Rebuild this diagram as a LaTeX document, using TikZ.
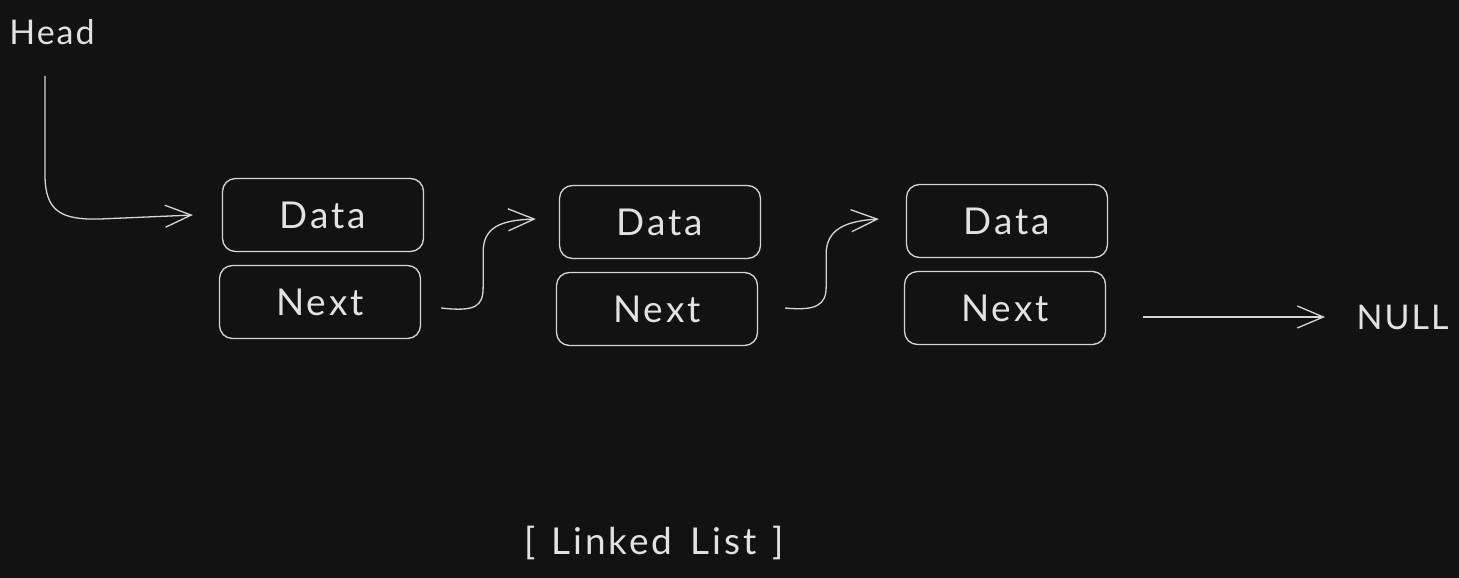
\documentclass[tikz,border=0pt]{standalone}
\usepackage{fontspec}
\setmainfont{Lato}
\usetikzlibrary{arrows.meta,calc}
\definecolor{bg}{HTML}{121212}
\definecolor{ink}{HTML}{D6D6D6}
\definecolor{txt}{HTML}{E2E2E2}
\begin{document}
\begin{tikzpicture}[x=1pt,y=-1pt,
  lbl/.style={text=txt,font=\fontsize{34}{40}\selectfont\addfontfeature{LetterSpace=6}},
  big/.style={text=txt,font=\fontsize{37}{42}\selectfont\addfontfeature{LetterSpace=8}},
  cell/.style={draw=ink,line width=1.3pt,rounded corners=13pt,minimum width=201pt,minimum height=73pt,inner sep=0pt,big},
  arr/.style={draw=ink,line width=1.3pt,-{Straight Barb[length=26pt,width=22pt,line width=1.3pt]}}]
\fill[bg] (0,0) rectangle (1459,578);
\useasboundingbox (0,0) rectangle (1459,578);
\node[lbl] (Head) at (52,32) {Head};
\node[cell] (D1) at (323,215) {Data};
\node[cell] (N1) at (320,302) {Next};
\node[cell] (D2) at (660,222) {Data};
\node[cell] (N2) at (657,309) {Next};
\node[cell] (D3) at (1007,221) {Data};
\node[cell] (N3) at (1005,308) {Next};
\node[lbl,anchor=west] (NULL) at (1353,317) {NULL};
\node[big] (cap) at (654,543) {[\hspace{16pt}Linked\hspace{18pt}List\hspace{16pt}]};
\coordinate (h0) at (45,76);
\draw[arr] (h0) -- (45,175) .. controls (45,212) and (62,220) .. (100,219) -- ($(D1.west)+(-29,0)$);
\draw[arr] ($(N1.east)+(20,6)$) .. controls ($(N1.east)+(55,10)$) and ($(N1.east)+(62,4)$) .. ($(N1.east)+(62,-15)$) -- ($(N1.east)+(62,-50)$) .. controls ($(N1.east)+(62,-75)$) and ($(N1.east)+(80,-82)$) .. ($(D2.west)+(-23,-3)$);
\draw[arr] ($(N2.east)+(27,-1)$) .. controls ($(N2.east)+(58,2)$) and ($(N2.east)+(68,-4)$) .. ($(N2.east)+(68,-22)$) -- ($(N2.east)+(68,-55)$) .. controls ($(N2.east)+(68,-80)$) and ($(N2.east)+(88,-88)$) .. ($(D3.west)+(-27,-2)$);
\draw[arr,shorten <=37pt,shorten >=28pt] (N3.east |- NULL.west) -- (NULL.west);
\end{tikzpicture}
\end{document}
